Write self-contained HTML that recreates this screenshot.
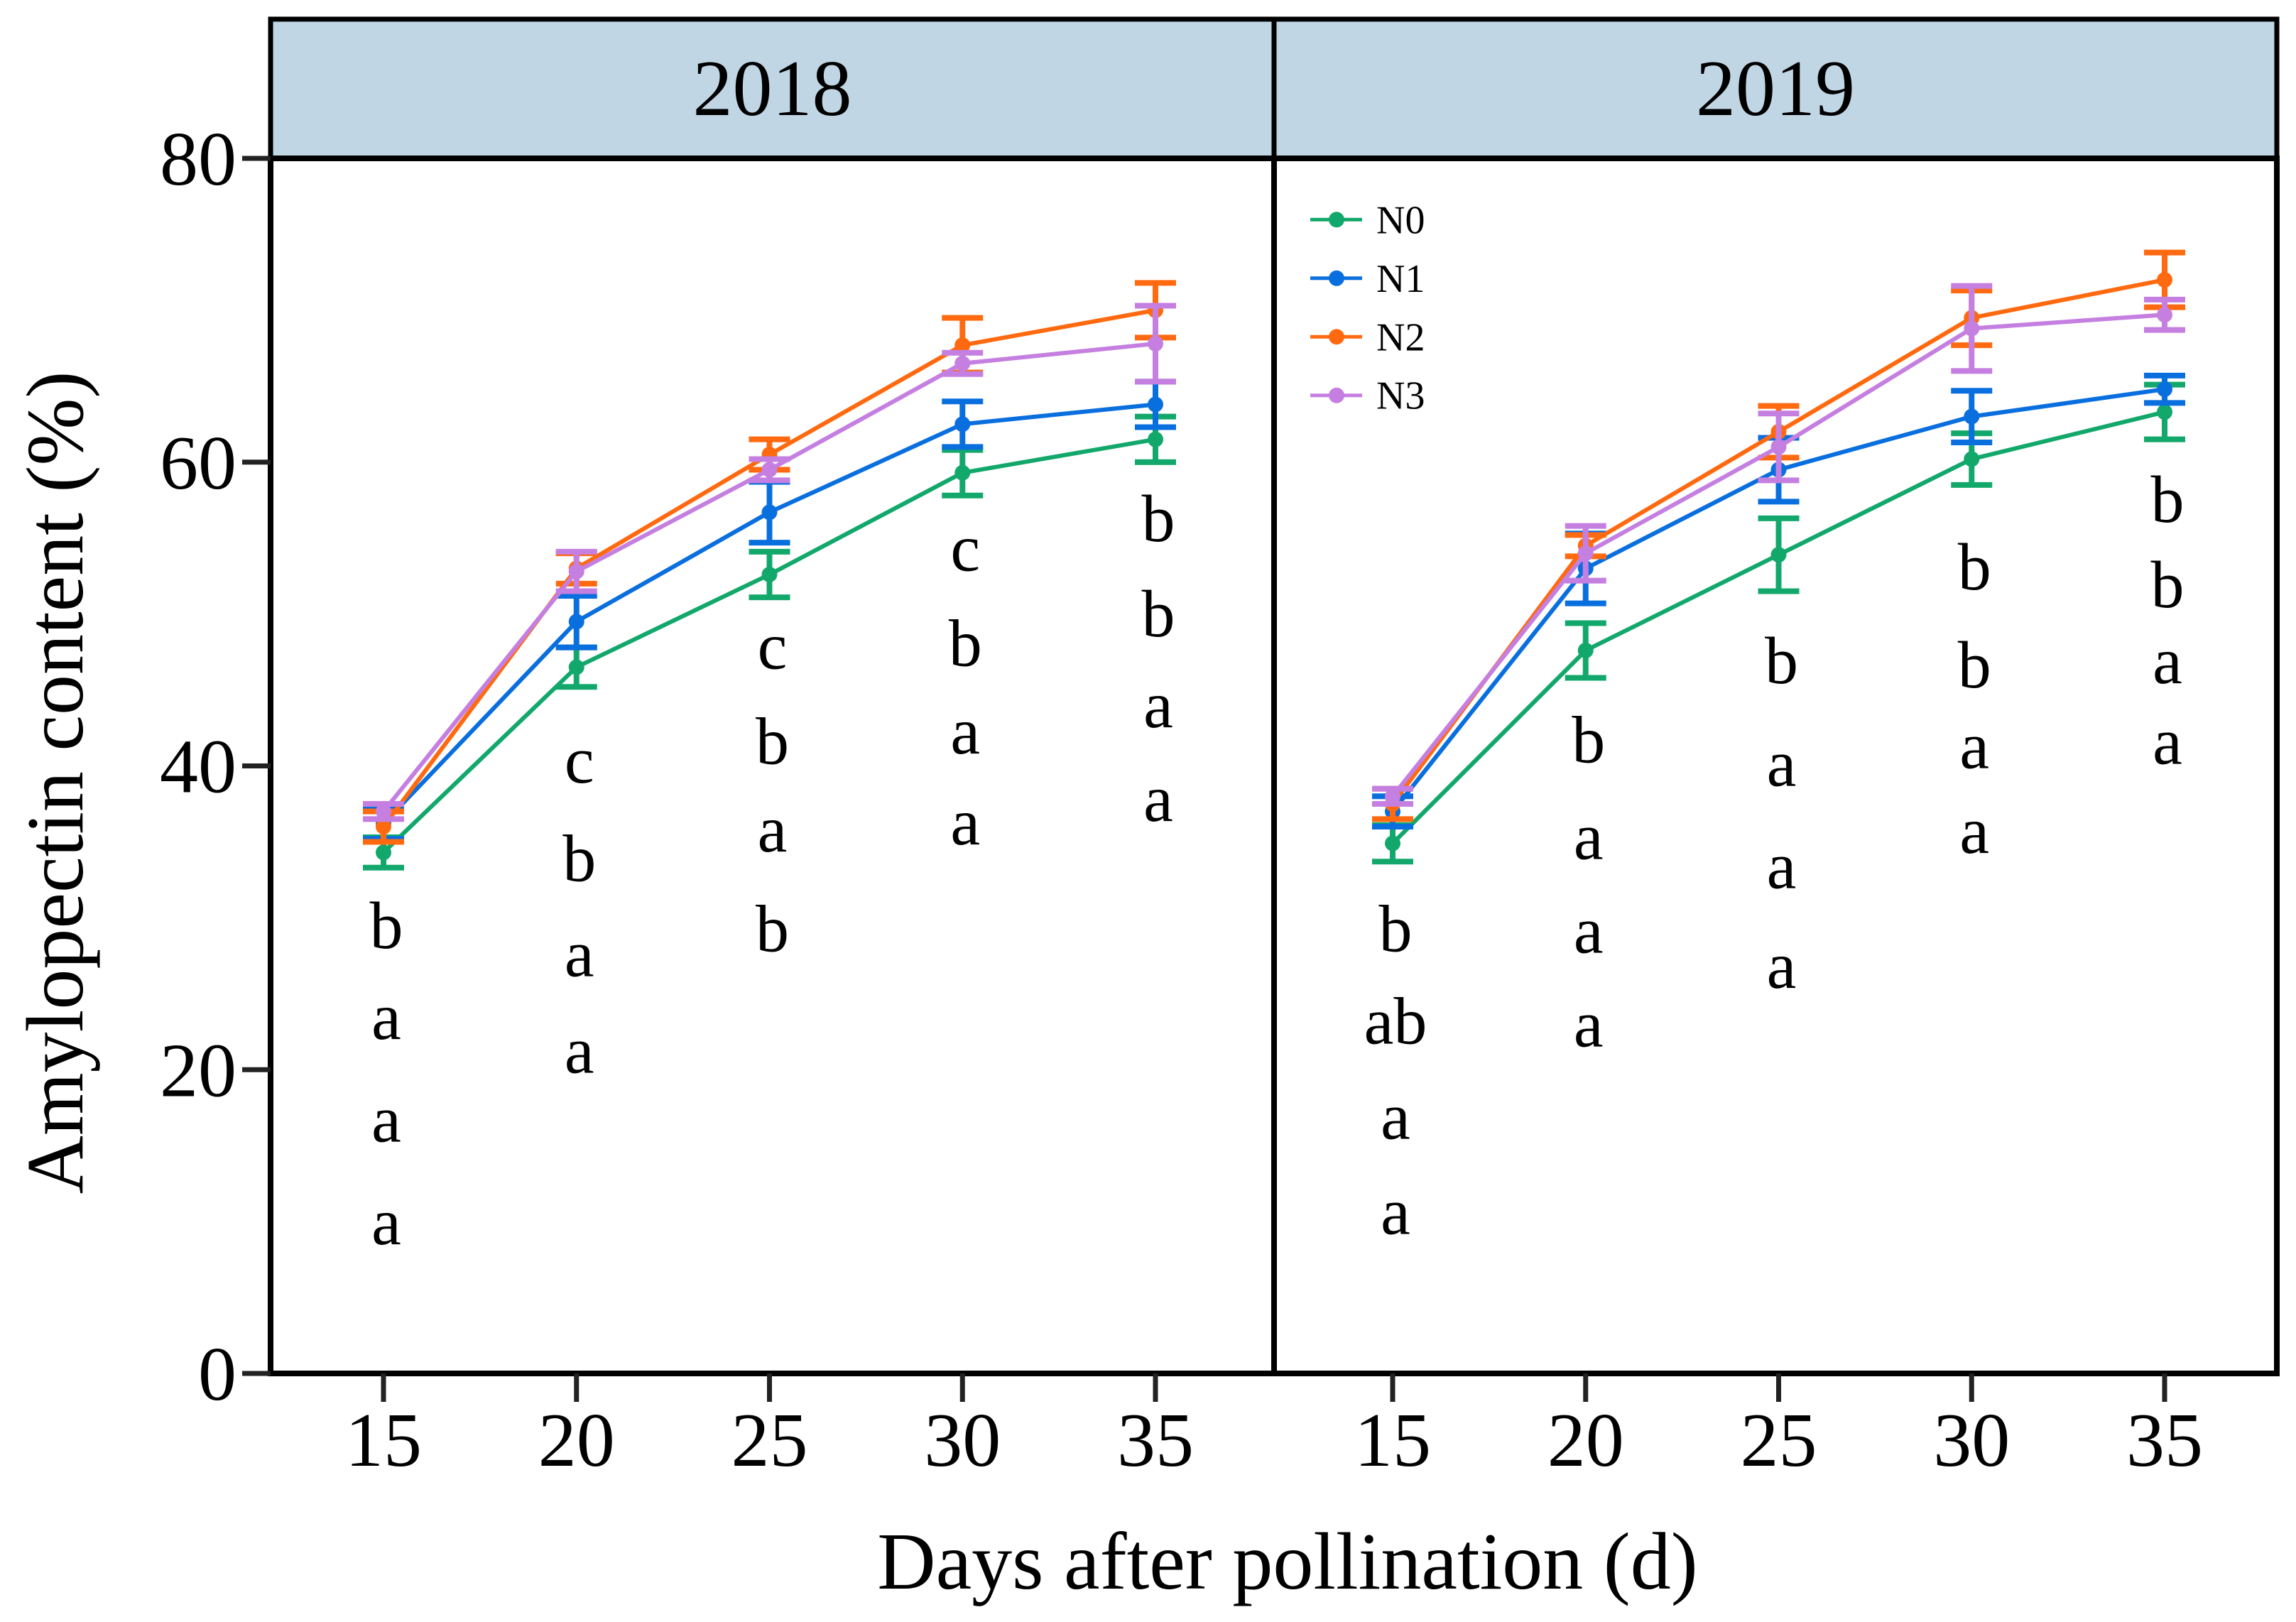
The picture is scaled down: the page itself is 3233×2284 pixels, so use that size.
<!DOCTYPE html>
<html><head><meta charset="utf-8"><style>
html,body{margin:0;padding:0;background:#fff}
svg{display:block;font-family:"Liberation Serif",serif}
</style></head><body>
<svg id="chart" xmlns="http://www.w3.org/2000/svg" width="3233" height="2284" viewBox="0 0 3233 2284">
<g id="root"></g>
</svg>
<script>
const days=[15,20,25,30,35];
const yTicks=[0,20,40,60,80];
const series=["N0","N1","N2","N3"];
const colors=["#13a86b","#0a6fde","#ff6a10","#c57fe0"];
const y2018_N0=[34.3,46.5,52.6,59.3,61.5];
const y2018_N1=[36.2,49.5,56.7,62.5,63.8];
const y2018_N2=[36.0,53.0,60.5,67.7,70.0];
const y2018_N3=[37.0,52.8,59.5,66.5,67.8];
const e2018_N0=[1.0,1.3,1.5,1.5,1.5];
const e2018_N1=[1.0,1.7,2.0,1.5,1.5];
const e2018_N2=[1.0,1.0,1.0,1.8,1.8];
const e2018_N3=[0.5,1.3,0.7,0.7,2.5];
const y2019_N0=[34.9,47.6,53.9,60.2,63.3];
const y2019_N1=[37.0,53.0,59.5,63.0,64.8];
const y2019_N2=[37.5,54.5,62.0,69.5,72.0];
const y2019_N3=[38.0,54.0,61.0,68.8,69.7];
const e2019_N0=[1.2,1.8,2.4,1.7,1.8];
const e2019_N1=[1.0,2.3,2.1,1.7,0.9];
const e2019_N2=[1.0,0.7,1.7,1.8,1.8];
const e2019_N3=[0.5,1.8,2.2,2.8,1.0];
const letters2018=[["b","a","a","a"],["c","b","a","a"],["c","b","a","b"],["c","b","a","a"],["b","b","a","a"]];
const letters2019=[["b","ab","a","a"],["b","a","a","a"],["b","a","a","a"],["b","b","a","a"],["b","b","a","a"]];
const letterY2018=[[633,695,765,835],[520,587,652,718],[442,507,567,635],[375,440,500,562],[355,420,482,546]];
const letterY2019=[[635,698,763,828],[506,572,636,700],[452,522,592,660],[388,455,510,568],[342,400,452,507]];

const S=2.062;
const NS="http://www.w3.org/2000/svg";
const root=document.getElementById('root');
function el(t,a,txt){const e=document.createElementNS(NS,t);for(const k in a)e.setAttribute(k,a[k]);if(txt!==undefined)e.textContent=txt;root.appendChild(e);return e;}
const L=381,D=1794,R=3206,T=27,SB=223,B=1934;
const yS=v=>B-(v/80)*(B-SB);
const xS=[d=>540+(d-15)/20*(1627-540), d=>1961+(d-15)/20*(3048-1961)];

let e;
e=el('rect',{x:L,y:T,width:D-L,height:SB-T,fill:"#c1d6e4",stroke:"#000","stroke-width":7});

e=el('rect',{x:D,y:T,width:R-D,height:SB-T,fill:"#c1d6e4",stroke:"#000","stroke-width":7});

e=el('text',{x:(L+D)/2,y:162,"font-size":112,"text-anchor":"middle"},"2018");

e=el('text',{x:(D+R)/2,y:162,"font-size":112,"text-anchor":"middle"},"2019");

e=el('rect',{x:L,y:SB,width:D-L,height:B-SB,fill:"none",stroke:"#000","stroke-width":8});

e=el('rect',{x:D,y:SB,width:R-D,height:B-SB,fill:"none",stroke:"#000","stroke-width":8});


yTicks.forEach(v=>{
  e=el('line',{x1:L-40,x2:L,y1:yS(v),y2:yS(v),stroke:"#222","stroke-width":7});
  
  e=el('text',{x:L-48,y:yS(v)+37,"font-size":108,"text-anchor":"end"},String(v));
  
});
[0,1].forEach(p=>days.forEach(d=>{
  e=el('line',{x1:xS[p](d),x2:xS[p](d),y1:B,y2:B+40,stroke:"#222","stroke-width":7});
  
  e=el('text',{x:xS[p](d),y:B+130,"font-size":108,"text-anchor":"middle"},String(d));
  
}));
e=el('text',{x:1813,y:2237,"font-size":114,"text-anchor":"middle"},"Days after pollination (d)");

e=el('text',{x:0,y:0,"font-size":114,"text-anchor":"middle",transform:"translate(116,1102) rotate(-90)"},"Amylopectin content (%)");


const data=[[y2018_N0,y2018_N1,y2018_N2,y2018_N3],[y2019_N0,y2019_N1,y2019_N2,y2019_N3]];
const errs=[[e2018_N0,e2018_N1,e2018_N2,e2018_N3],[e2019_N0,e2019_N1,e2019_N2,e2019_N3]];
[0,1].forEach(p=>{
  series.forEach((s,i)=>{
    const ys=data[p][i],es=errs[p][i],c=colors[i];
    ys.forEach((v,j)=>{
      const x=xS[p](days[j]);
      e=el('path',{d:`M${x-29},${yS(v+es[j])}H${x+29}M${x},${yS(v+es[j])}V${yS(v-es[j])}M${x-29},${yS(v-es[j])}H${x+29}`,stroke:c,"stroke-width":8,fill:"none"});
      
    });
    e=el('polyline',{points:ys.map((v,j)=>xS[p](days[j])+","+yS(v)).join(" "),stroke:c,"stroke-width":6,fill:"none"});
    
    ys.forEach((v,j)=>{
      e=el('circle',{cx:xS[p](days[j]),cy:yS(v),r:11,fill:c});
      
    });
  });
  const lt=p?letters2019:letters2018, ly=p?letterY2019:letterY2018;
  lt.forEach((col,j)=>col.forEach((t,k)=>{
    e=el('text',{x:xS[p](days[j])+4,y:ly[j][k]*S+30,"font-size":94,"text-anchor":"middle"},t);
    
  }));
});
series.forEach((s,i)=>{
  const y=(150+i*40)*S;
  e=el('line',{x1:1845,x2:1918,y1:y,y2:y,stroke:colors[i],"stroke-width":5});
  
  e=el('circle',{cx:1882,cy:y,r:11,fill:colors[i]});
  
  e=el('text',{x:1938,y:y+19,"font-size":56},s);
  
});
</script>
</body></html>
